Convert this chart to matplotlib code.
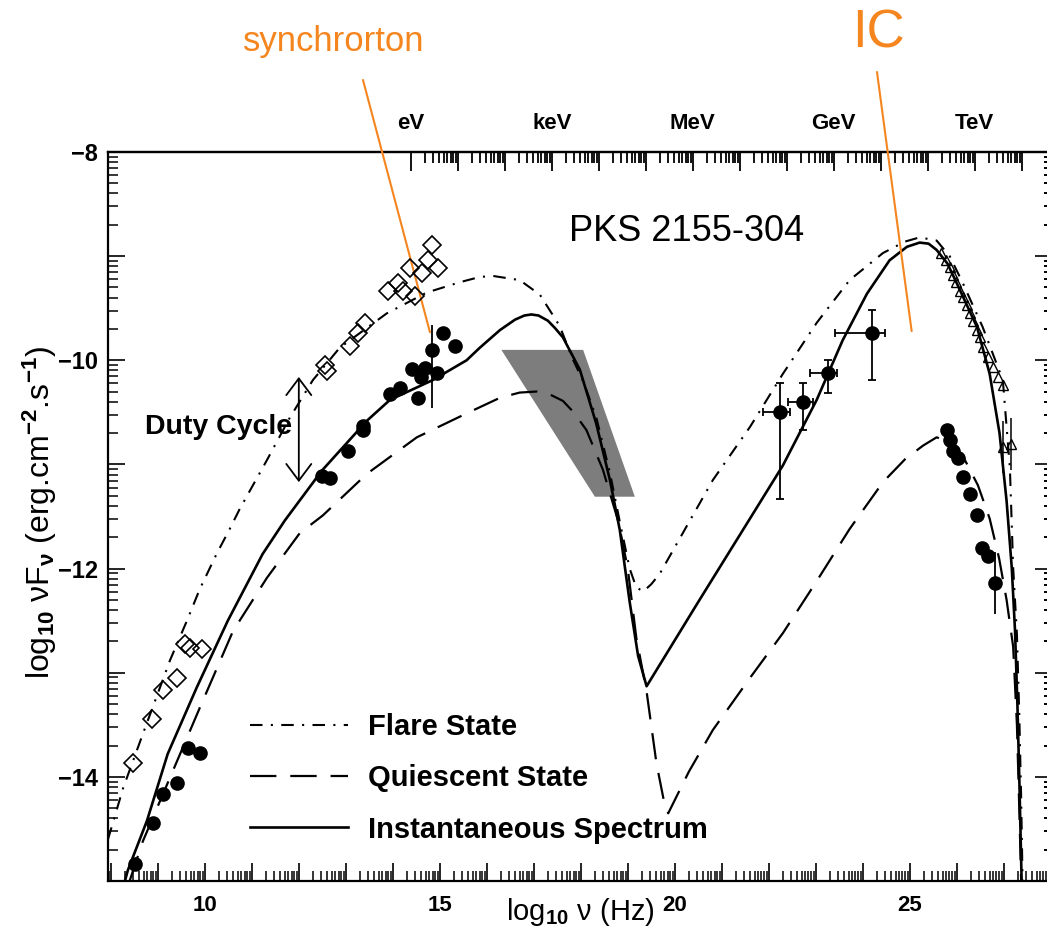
import numpy as np
import matplotlib
matplotlib.use("Agg")
import matplotlib.pyplot as plt
from matplotlib.ticker import FixedLocator, FuncFormatter, NullFormatter

plt.rcParams["font.family"] = ["Liberation Sans", "DejaVu Sans"]
plt.rcParams["font.weight"] = "bold"
plt.rcParams["lines.scale_dashes"] = False
plt.rcParams["mathtext.fontset"] = "custom"
plt.rcParams["mathtext.rm"] = "Liberation Sans"
plt.rcParams["mathtext.it"] = "Liberation Sans:italic"

# model curves, log10 nu [Hz] vs log10 nuFnu [erg cm-2 s-1]
inst_v = [8.30, 8.36, 8.77, 9.21, 9.83, 10.49, 11.23, 11.70, 12.49, 13.45, 13.94,
          14.85, 15.57, 15.85, 16.28, 16.60, 16.80, 16.95, 17.10, 17.30, 17.45,
          17.62, 17.98, 18.33, 18.62, 18.83, 19.04, 19.22, 19.40, 20.50, 21.60,
          22.30, 23.02, 23.57, 24.09, 24.57, 24.94, 25.21, 25.40, 25.57, 25.80,
          26.00, 26.43, 26.70, 26.91, 27.06, 27.17, 27.24, 27.29, 27.33, 27.38]
inst_f = [-15.00, -14.90, -14.42, -13.78, -13.14, -12.50, -11.86, -11.54, -11.06,
          -10.58, -10.38, -10.19, -10.00, -9.88, -9.71, -9.61, -9.57, -9.56, -9.57,
          -9.62, -9.69, -9.78, -10.09, -10.61, -11.15, -11.63, -12.32, -12.84,
          -13.13, -12.32, -11.52, -11.01, -10.38, -9.81, -9.36, -9.04, -8.91,
          -8.87, -8.88, -8.94, -9.07, -9.26, -9.68, -10.13, -10.70, -11.35,
          -11.99, -12.60, -13.30, -14.00, -15.00]

flare_v = [7.94, 8.26, 8.68, 9.26, 9.62, 9.89, 10.25, 10.53, 10.74, 11.32, 11.81,
           12.30, 12.87, 13.87, 14.72, 15.43, 15.85, 16.13, 16.70, 17.13, 17.55,
           17.83, 18.05, 18.33, 18.62, 18.83, 19.04, 19.18, 19.33, 19.50, 19.68,
           20.81, 21.60, 22.30, 23.02, 23.72, 24.43, 24.90, 25.21, 25.57, 25.85,
           26.13, 26.55, 26.98, 27.13, 27.20, 27.28, 27.33, 27.37, 27.40]
flare_f = [-14.60, -14.11, -13.59, -12.88, -12.50, -12.20, -11.86, -11.62, -11.43,
           -10.96, -10.55, -10.19, -9.88, -9.55, -9.35, -9.25, -9.20, -9.19, -9.23,
           -9.37, -9.67, -9.99, -10.20, -10.55, -11.08, -11.55, -12.00, -12.18,
           -12.22, -12.15, -12.05, -11.15, -10.64, -10.13, -9.64, -9.23, -8.97,
           -8.86, -8.82, -8.85, -9.00, -9.26, -9.68, -10.19, -11.03, -11.99,
           -12.63, -13.40, -14.20, -15.00]

quiet_v = [8.40, 8.68, 9.89, 10.60, 11.32, 12.02, 12.51, 13.45, 14.51, 15.57,
           16.28, 16.70, 17.06, 17.35, 17.62, 17.85, 18.12, 18.47, 18.80, 19.00,
           19.18, 19.40, 19.61, 19.79, 19.86, 20.30, 20.81, 21.60, 22.30, 23.02,
           23.72, 24.43, 24.90, 25.28, 25.57, 25.85, 26.13, 26.45, 26.70, 26.90,
           27.06, 27.20, 27.28, 27.33, 27.37]
quiet_f = [-15.00, -14.62, -13.34, -12.60, -12.09, -11.66, -11.49, -11.09, -10.74,
           -10.51, -10.36, -10.31, -10.30, -10.33, -10.39, -10.50, -10.67, -11.05,
           -11.55, -12.00, -12.66, -13.18, -13.87, -14.28, -14.35, -13.95, -13.55,
           -13.05, -12.62, -12.12, -11.62, -11.17, -10.95, -10.82, -10.74, -10.78,
           -10.92, -11.20, -11.52, -11.90, -12.30, -12.75, -13.50, -14.30, -15.00]

# X-ray butterfly (grey band)
bowtie_v = [16.31, 18.05, 19.15, 18.30]
bowtie_f = [-9.90, -9.90, -11.31, -11.31]

# flare state radio/optical/UV points (open diamonds)
flare_opt_v = [8.47, 8.87, 9.11, 9.40, 9.57, 9.68, 9.94, 12.60, 12.55, 13.09, 13.26,
               13.40, 13.89, 14.11, 14.21, 14.36, 14.47, 14.62, 14.74, 14.96, 14.83]
flare_opt_f = [-13.87, -13.44, -13.17, -13.05, -12.72, -12.76, -12.77, -10.10, -10.05,
               -9.86, -9.74, -9.64, -9.33, -9.26, -9.33, -9.11, -9.38, -9.16, -9.04,
               -9.11, -8.89]

# instantaneous synchrotron points (filled circles)
inst_syn_v = [8.51, 8.89, 9.11, 9.40, 9.64, 9.89, 12.49, 12.66, 13.04, 13.36, 13.36,
              13.94, 14.15, 14.40, 14.53, 14.68, 14.61, 14.94, 15.07, 15.32]
inst_syn_f = [-14.84, -14.44, -14.16, -14.06, -13.72, -13.77, -11.11, -11.13, -10.87,
              -10.67, -10.63, -10.32, -10.27, -10.08, -10.36, -10.07, -10.16, -10.12,
              -9.74, -9.86]
# one X-ray/UV point with a large error bar
uv_v = [14.83]
uv_f = [-9.90]
uv_err_lo = [0.56]
uv_err_hi = [0.24]

# instantaneous gamma-ray points with error bars
gam_v = [22.23, 22.72, 23.26, 24.19]
gam_f = [-10.50, -10.40, -10.12, -9.74]
gam_yerr_lo = [0.83, 0.27, 0.19, 0.45]
gam_yerr_hi = [0.28, 0.18, 0.12, 0.22]
gam_xerr_lo = [0.36, 0.32, 0.39, 0.79]
gam_xerr_hi = [0.22, 0.22, 0.19, 0.28]

# quiescent TeV points
tev_q_v = [25.79, 25.85, 25.92, 26.02, 26.13, 26.28, 26.43, 26.53, 26.66, 26.81]
tev_q_f = [-10.67, -10.77, -10.87, -10.94, -11.12, -11.28, -11.49, -11.80, -11.88, -12.14]
tev_q_err = [0.0, 0.0, 0.0, 0.0, 0.0, 0.0, 0.0, 0.0, 0.0, 0.3]

# flare TeV points (open triangles)
tev_f_v = [25.67, 25.78, 25.85, 25.92, 25.99, 26.06, 26.13, 26.21, 26.28, 26.35,
           26.42, 26.49, 26.56, 26.67, 26.77, 26.88, 26.99, 26.99, 27.16]
tev_f_f = [-8.97, -9.04, -9.10, -9.18, -9.25, -9.33, -9.39, -9.47, -9.55, -9.62,
           -9.71, -9.78, -9.87, -9.97, -10.06, -10.16, -10.24, -10.83, -10.80]
tev_f_err = [0.0] * 17 + [0.25, 0.25]

legend_labels = ["Flare State", "Quiescent State", "Instantaneous Spectrum"]

# photon energy marks on the top axis
EV_HZ = np.log10(2.418e14)
energy_names = {0: "eV", 3: "keV", 6: "MeV", 9: "GeV", 12: "TeV"}

orange = "#f5851f"

fig = plt.figure(figsize=(10.47, 9.32), dpi=100)
ax = fig.add_axes([108 / 1047, 51 / 932, 939 / 1047, 729 / 932])
ax.set_xlim(7.94, 27.92)
ax.set_ylim(-15.0, -8.0)

ax.fill(bowtie_v, bowtie_f, color="#7d7d7d", lw=0, zorder=1)

l_flare, = ax.plot(flare_v, flare_f, color="black", lw=1.5,
                   linestyle=(0, (9, 6, 1.5, 6)), zorder=3)
l_quiet, = ax.plot(quiet_v, quiet_f, color="black", lw=1.6,
                   linestyle=(0, (19, 10)), zorder=3)
l_inst, = ax.plot(inst_v, inst_f, color="black", lw=1.9, zorder=3)

ax.plot(flare_opt_v, flare_opt_f, "D", mfc="none", mec="black", ms=9.5, mew=1.2, zorder=4)
ax.plot(inst_syn_v, inst_syn_f, "o", color="black", ms=9.5, zorder=4)
ax.errorbar(uv_v, uv_f, yerr=[uv_err_lo, uv_err_hi], fmt="o", color="black",
            ms=9.5, elinewidth=1.3, capsize=0, zorder=4)
ax.errorbar(gam_v, gam_f, xerr=[gam_xerr_lo, gam_xerr_hi], yerr=[gam_yerr_lo, gam_yerr_hi],
            fmt="o", color="black", ms=9.5, elinewidth=1.3, capsize=3, capthick=1.3, zorder=4)
ax.errorbar(tev_q_v, tev_q_f, yerr=tev_q_err, fmt="o", color="black", ms=9.5,
            elinewidth=1.3, capsize=0, zorder=4)
ax.errorbar(tev_f_v, tev_f_f, yerr=tev_f_err, fmt="^", mfc="none", mec="black",
            ecolor="black", ms=7.5, mew=1.0, elinewidth=1.1, capsize=0, zorder=4)

# duty cycle arrow
ax.annotate("", xy=(12.0, -10.16), xytext=(12.0, -11.17),
            arrowprops=dict(arrowstyle="<->,head_length=0.6,head_width=0.45",
                            lw=1.3, color="black", mutation_scale=20,
                            shrinkA=0, shrinkB=0))
ax.text(11.85, -10.64, "Duty Cycle", ha="right", va="center", fontsize=20.5)
ax.text(20.26, -8.76, "PKS 2155-304", ha="center", va="center", fontsize=26,
        fontweight="normal")

# axis ticks (log-style minor ticks in each decade)
ax.xaxis.set_major_locator(FixedLocator(np.arange(8, 28)))
ax.xaxis.set_minor_locator(FixedLocator([d + np.log10(k) for d in range(7, 28)
                                         for k in range(2, 10)]))
ax.xaxis.set_major_formatter(FuncFormatter(
    lambda v, _: f"{int(round(v))}" if int(round(v)) % 5 == 0 else ""))
ax.yaxis.set_major_locator(FixedLocator(np.arange(-15, -7)))
ax.yaxis.set_minor_locator(FixedLocator([d + np.log10(k) for d in range(-16, -8)
                                         for k in range(2, 10)]))
ax.yaxis.set_major_formatter(FuncFormatter(
    lambda y, _: f"\u2212{abs(int(round(y)))}" if int(round(y)) % 2 == 0 else ""))

ax.tick_params(axis="x", which="major", direction="in", length=13, width=1.2,
               labelsize=16, pad=10, top=False)
ax.tick_params(axis="x", which="minor", direction="in", length=7, width=1.1, top=False)
ax.tick_params(axis="y", which="major", direction="in", length=12, width=1.2,
               labelsize=17, pad=7, right=False)
ax.tick_params(axis="y", which="minor", direction="in", length=7, width=1.1, right=False)

for side in ["left", "bottom", "top"]:
    ax.spines[side].set_linewidth(1.6)
ax.spines["right"].set_visible(False)

sec_r = ax.secondary_yaxis("right")
sec_r.yaxis.set_major_locator(FixedLocator(np.arange(-15, -7)))
sec_r.yaxis.set_minor_locator(FixedLocator([d + np.log10(k) for d in range(-16, -8)
                                            for k in range(2, 10)]))
sec_r.yaxis.set_major_formatter(NullFormatter())
sec_r.tick_params(which="major", direction="in", length=9, width=1.2)
sec_r.tick_params(which="minor", direction="in", length=2.5, width=1.4)
sec_r.spines["right"].set_visible(False)

sec_t = ax.secondary_xaxis("top")
sec_t.xaxis.set_major_locator(FixedLocator([EV_HZ + n for n in range(0, 14)]))
sec_t.xaxis.set_minor_locator(FixedLocator([EV_HZ + n + np.log10(k) for n in range(0, 13)
                                            for k in range(2, 10)]))
sec_t.xaxis.set_major_formatter(FuncFormatter(
    lambda v, _: energy_names.get(int(round(v - EV_HZ)), "")))
sec_t.tick_params(which="major", direction="in", length=14, width=1.3,
                  labelsize=16, pad=13)
sec_t.tick_params(which="minor", direction="in", length=8, width=1.3)
sec_t.spines["top"].set_linewidth(1.6)

ax.legend(handles=[l_flare, l_quiet, l_inst], labels=legend_labels,
          loc="upper left", bbox_to_anchor=(250 / 1047, 1 - 713 / 932),
          bbox_transform=fig.transFigure, frameon=False, borderpad=0,
          borderaxespad=0, handlelength=3.35, handletextpad=0.7,
          labelspacing=0.8, prop={"weight": "bold", "size": 21})

# axis titles
fig.text(580 / 1047, 1 - 912 / 932, "log$_{10}$ \u03bd (Hz)", ha="center", va="center",
         fontsize=21, fontweight="normal")
fig.text(40 / 1047, 1 - 512 / 932,
         "log$_{10}$ \u03bdF$_{\\mathrm{\u03bd}}$ (erg.cm$^{-2}$.s$^{-1}$)",
         rotation=90, ha="center", va="center", fontsize=23, fontweight="normal")

# orange component labels
fig.text(334 / 1047, 1 - 42 / 932, "synchrorton", color=orange, fontsize=25,
         fontweight="normal", ha="center", va="center")
fig.text(878 / 1047, 1 - 34 / 932, "IC", color=orange, fontsize=38,
         fontweight="normal", ha="center", va="center")
ax.annotate("", xy=(14.79, -9.73), xytext=(363, 932 - 80), textcoords="figure pixels",
            arrowprops=dict(arrowstyle="-", color=orange, lw=1.5, shrinkA=0, shrinkB=0),
            annotation_clip=False)
ax.annotate("", xy=(25.04, -9.72), xytext=(877, 932 - 72), textcoords="figure pixels",
            arrowprops=dict(arrowstyle="-", color=orange, lw=1.5, shrinkA=0, shrinkB=0),
            annotation_clip=False)

fig.savefig("out.png", dpi=100)
